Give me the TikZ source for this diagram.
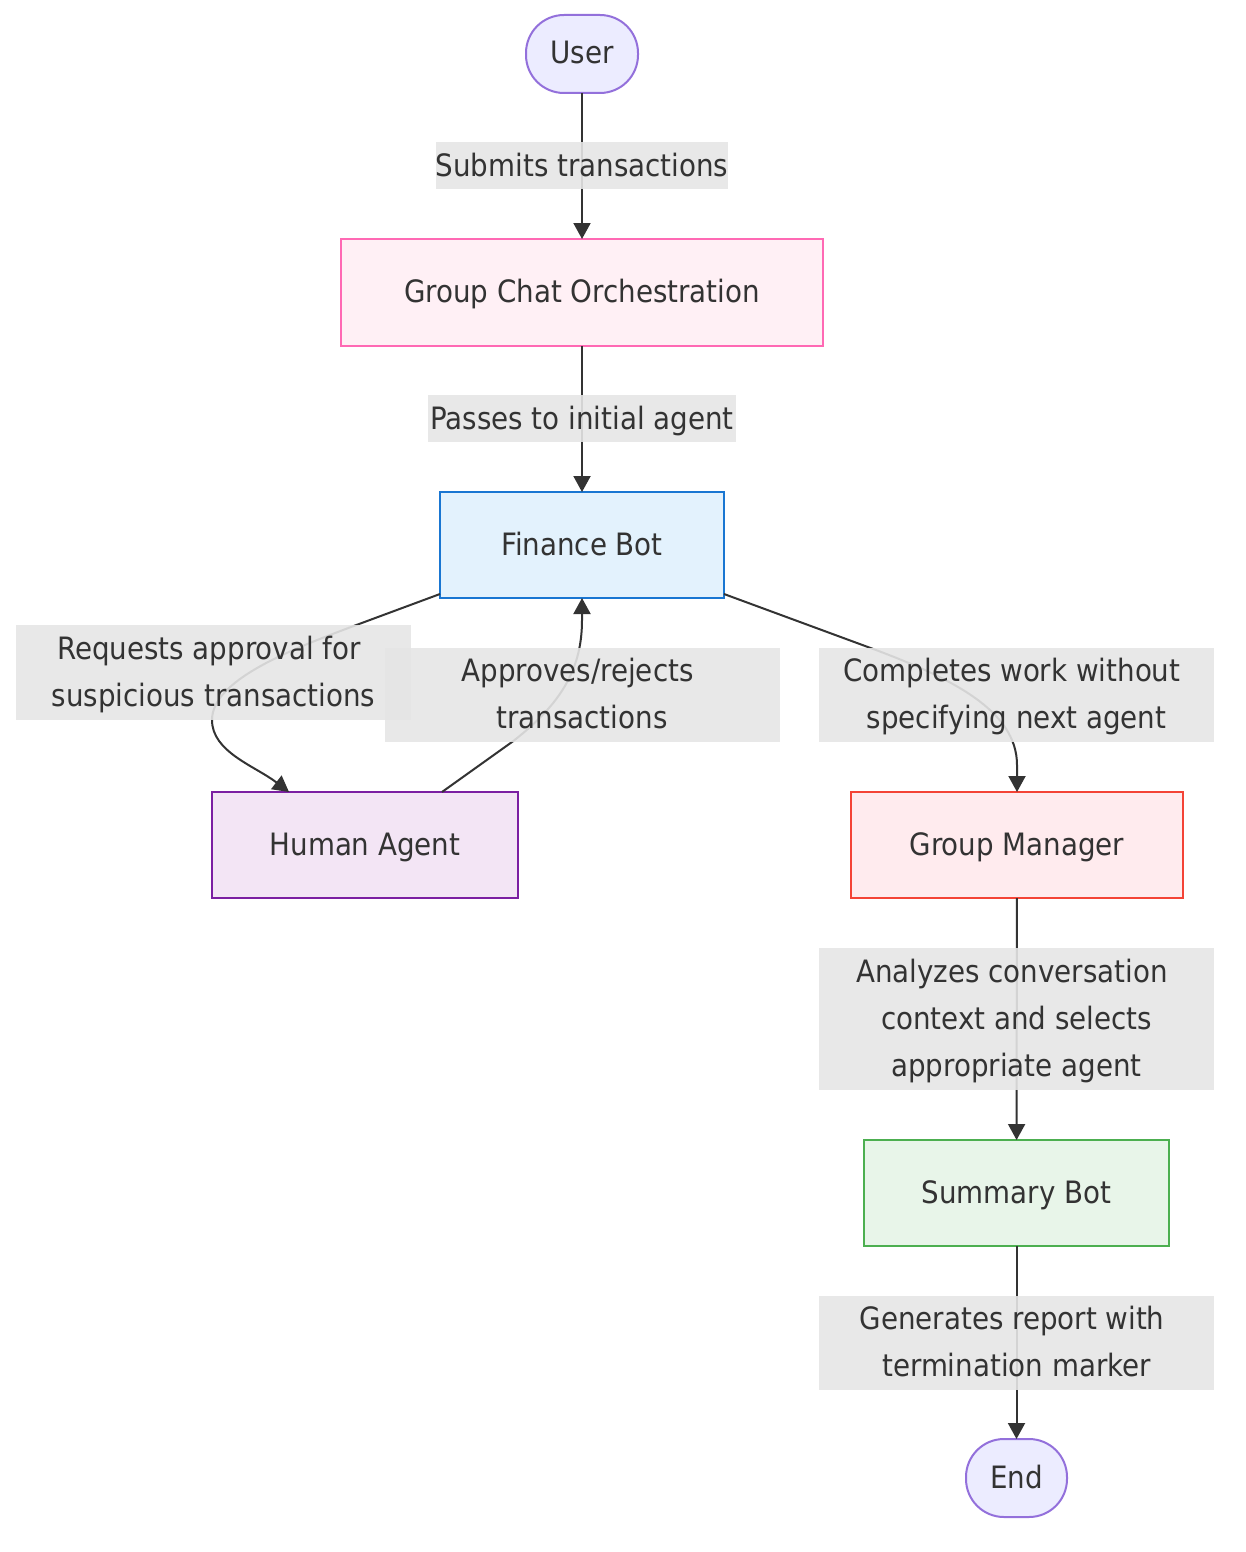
\documentclass[tikz,border=0pt]{standalone}
\usepackage{fontspec}
\setmainfont{DejaVu Sans Condensed}
\usetikzlibrary{arrows.meta}

\definecolor{inkgray}{HTML}{333333}
\definecolor{labelgray}{HTML}{E5E5E5}
\definecolor{termline}{HTML}{9370DB}
\definecolor{termfill}{HTML}{ECECFF}
\definecolor{chatline}{HTML}{FF69B4}
\definecolor{chatfill}{HTML}{FFF0F5}
\definecolor{financeline}{HTML}{1976D2}
\definecolor{financefill}{HTML}{E3F2FD}
\definecolor{humanline}{HTML}{7B1FA2}
\definecolor{humanfill}{HTML}{F3E5F5}
\definecolor{managerline}{HTML}{F44336}
\definecolor{managerfill}{HTML}{FFEBEE}
\definecolor{summaryline}{HTML}{4CAF50}
\definecolor{summaryfill}{HTML}{E8F5E9}

% 标签行的上下支撑与行尾空白
\newcommand{\topln}{\rule{0pt}{16.75pt}}
\newcommand{\botln}{\rule[-6.75pt]{0pt}{6.75pt}}
\newcommand{\oneln}{\rule[-6.25pt]{0pt}{23.5pt}}
\newcommand{\brkln}{\hspace*{4.5pt}\\}

\tikzset{
    agentbox/.style n args={4}{draw=#1, fill=#2, line width=1pt, minimum width=#3, minimum height=#4,
        inner sep=0pt, outer sep=0pt, text=inkgray, text height=13pt, text depth=3pt,
        font=\fontsize{15.4}{23.5}\selectfont},
    terminal/.style={draw=termline, fill=termfill, line width=1pt, rounded corners=19pt, minimum width=#1, minimum height=39pt,
        inner sep=0pt, outer sep=0pt, text=inkgray, text height=13pt, text depth=3pt,
        font=\fontsize{15.4}{23.5}\selectfont},
    edgelabel/.style n args={2}{fill=labelgray, fill opacity=0.9, text opacity=1, text=inkgray, align=center,
        minimum width=#1, minimum height=#2, inner sep=0pt, font=\fontsize{15.4}{23.5}\selectfont},
    flow/.style={draw=inkgray, line width=1pt, -{Triangle[width=8.5pt,length=8pt]}},
}

\begin{document}
\begin{tikzpicture}[x=0.5pt,y=-0.5pt]
    \useasboundingbox (0,0) rectangle (1246,1552);

    % 放置节点
    \node[terminal=56pt] (user) at (582,54) {User};
    \node[agentbox={chatline}{chatfill}{241pt}{53.5pt}] (orchestration) at (582,292.5) {Group Chat Orchestration};
    \node[agentbox={financeline}{financefill}{142pt}{53pt}] (finance) at (582,545) {Finance Bot};
    \node[agentbox={humanline}{humanfill}{153pt}{53pt}] (human) at (365,845) {Human Agent};
    \node[agentbox={managerline}{managerfill}{166pt}{53pt}] (manager) at (1017,845) {Group Manager};
    \node[agentbox={summaryline}{summaryfill}{152.5pt}{53pt}] (summary) at (1016.5,1193) {Summary Bot};
    \node[terminal=50.5pt] (end) at (1016.5,1478) {End};

    % 画连线
    \draw[flow] (user) -- (orchestration);
    \draw[flow] (orchestration) -- (finance);
    \draw[flow] ([yshift=2pt]finance.south west) -- (351,627)
        .. controls (290,650) and (212,680) .. (212,720)
        .. controls (212,752) and (255,766) .. ([xshift=-38pt]human.north);
    \draw[flow] ([xshift=38.5pt]human.north) -- (512,742)
        .. controls (560,705) and (582,670) .. (582,620) -- (finance.south);
    \draw[flow] ([yshift=2pt]finance.south east) -- (876,650)
        .. controls (950,678) and (1017,710) .. (1017,765) -- (manager.north);
    \draw[flow] (manager) -- (summary);
    \draw[flow] (summary) -- (end);

    % 放置连线标签
    \node[edgelabel={146pt}{23.5pt}] (submits) at (582,165.5) {\oneln Submits transactions};
    \node[edgelabel={154pt}{23.5pt}] (passes) at (582,418.5) {\oneln Passes to initial agent};
    \node[edgelabel={197.5pt}{47.5pt}] (requests) at (213.5,672.5) {\topln Requests approval for\brkln suspicious transactions\botln};
    \node[edgelabel={197.5pt}{47pt}] (approves) at (582,695) {\topln Approves/rejects\brkln transactions\botln};
    \node[edgelabel={197.5pt}{47pt}] (completes) at (1016.5,695) {\topln Completes work without\brkln specifying next agent\botln};
    \node[edgelabel={197.5pt}{71pt}] (analyzes) at (1016.5,1019) {\topln Analyzes conversation\brkln context and selects\brkln appropriate agent\botln};
    \node[edgelabel={197.5pt}{47pt}] (generates) at (1016.5,1343) {\topln Generates report with\brkln termination marker\botln};
\end{tikzpicture}
\end{document}
